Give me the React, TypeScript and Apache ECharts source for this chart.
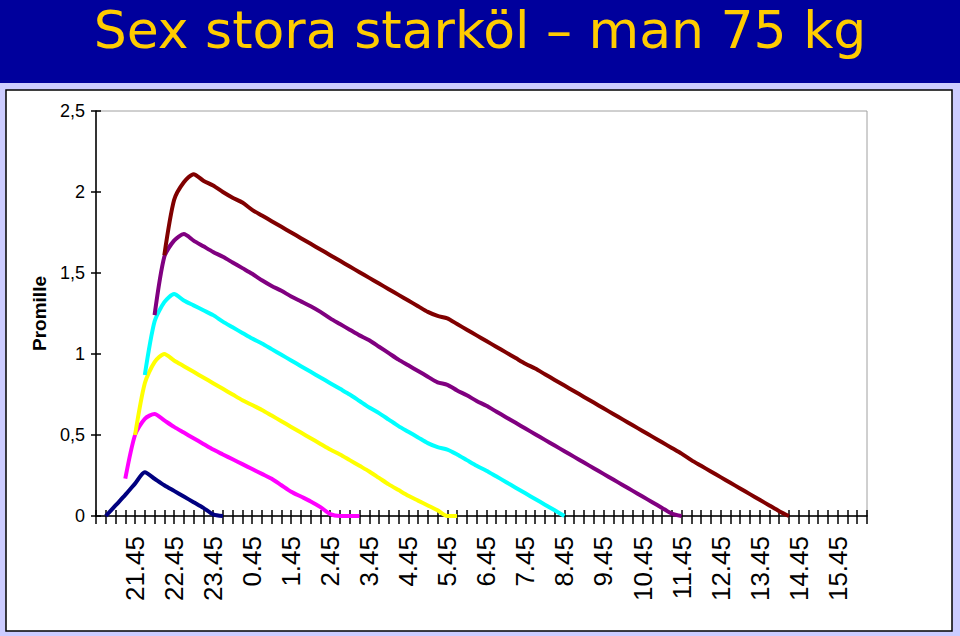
import React, { useEffect, useRef } from "react";
import * as echarts from "echarts";

const categories = [
  "20.45",
  "21.00", "21.15", "21.30", "21.45",
  "22.00", "22.15", "22.30", "22.45",
  "23.00", "23.15", "23.30", "23.45",
  "0.00", "0.15", "0.30", "0.45",
  "1.00", "1.15", "1.30", "1.45",
  "2.00", "2.15", "2.30", "2.45",
  "3.00", "3.15", "3.30", "3.45",
  "4.00", "4.15", "4.30", "4.45",
  "5.00", "5.15", "5.30", "5.45",
  "6.00", "6.15", "6.30", "6.45",
  "7.00", "7.15", "7.30", "7.45",
  "8.00", "8.15", "8.30", "8.45",
  "9.00", "9.15", "9.30", "9.45",
  "10.00", "10.15", "10.30", "10.45",
  "11.00", "11.15", "11.30", "11.45",
  "12.00", "12.15", "12.30", "12.45",
  "13.00", "13.15", "13.30", "13.45",
  "14.00", "14.15", "14.30", "14.45",
  "15.00", "15.15", "15.30", "15.45",
  "16.00", "16.15", "16.30",
];

const yTickLabels = ["0", "0,5", "1", "1,5", "2", "2,5"];

const seriesNames = ["1 starköl", "2 starköl", "3 starköl", "4 starköl", "5 starköl", "6 starköl"];
const seriesColors = ["#000080", "#FF00FF", "#FFFF00", "#00FFFF", "#800080", "#800000"];

// first category index of each curve
const seriesStarts = [1, 3, 4, 5, 6, 7];

const beer1 = [0, 0.065, 0.13, 0.2, 0.27, 0.23, 0.19, 0.155, 0.12, 0.085, 0.05, 0.01, 0];

const beer2 = [
  0.23, 0.5, 0.6, 0.63, 0.59, 0.55, 0.515, 0.48, 0.445, 0.41, 0.38, 0.35, 0.32, 0.29, 0.26,
  0.23, 0.19, 0.15, 0.12, 0.09, 0.055, 0.012, 0, 0, 0,
];

const beer3 = [
  0.5, 0.82, 0.95, 1.0, 0.96, 0.925, 0.89, 0.855, 0.82, 0.785, 0.75, 0.715, 0.685, 0.655,
  0.62, 0.585, 0.55, 0.515, 0.48, 0.445, 0.41, 0.38, 0.345, 0.31, 0.275, 0.235, 0.195, 0.16,
  0.125, 0.095, 0.065, 0.035, 0, 0,
];

const beer4 = [
  0.87, 1.2, 1.32, 1.37, 1.33, 1.3, 1.27, 1.24, 1.2, 1.165, 1.13, 1.095, 1.065, 1.03, 0.995,
  0.96, 0.925, 0.89, 0.855, 0.82, 0.785, 0.75, 0.71, 0.67, 0.635, 0.595, 0.555, 0.52, 0.485,
  0.45, 0.425, 0.41, 0.38, 0.345, 0.31, 0.28, 0.245, 0.21, 0.175, 0.14, 0.105, 0.07, 0.035, 0,
];

const beer5 = [
  1.24, 1.6, 1.7, 1.74, 1.7, 1.665, 1.63, 1.6, 1.565, 1.53, 1.495, 1.455, 1.42, 1.39, 1.355,
  1.325, 1.295, 1.26, 1.22, 1.185, 1.15, 1.115, 1.085, 1.045, 1.005, 0.965, 0.93, 0.895, 0.86,
  0.825, 0.81, 0.775, 0.745, 0.71, 0.68, 0.645, 0.61, 0.575, 0.54, 0.505, 0.47, 0.435, 0.4,
  0.365, 0.33, 0.295, 0.26, 0.225, 0.19, 0.155, 0.12, 0.085, 0.05, 0.015, 0,
];

const beer6 = [
  1.61, 1.95, 2.06, 2.11, 2.07, 2.04, 2.0, 1.965, 1.935, 1.89, 1.855, 1.82, 1.785, 1.75, 1.715,
  1.68, 1.645, 1.61, 1.575, 1.54, 1.505, 1.47, 1.435, 1.4, 1.365, 1.33, 1.295, 1.26, 1.235,
  1.22, 1.185, 1.15, 1.115, 1.08, 1.045, 1.01, 0.975, 0.94, 0.91, 0.875, 0.84, 0.805, 0.77,
  0.735, 0.7, 0.665, 0.63, 0.595, 0.56, 0.525, 0.49, 0.455, 0.42, 0.385, 0.345, 0.31, 0.275,
  0.24, 0.205, 0.17, 0.135, 0.1, 0.065, 0.03, 0,
];

const seriesValues = [beer1, beer2, beer3, beer4, beer5, beer6];

const titleText = "Sex stora starköl – man 75 kg";
const yAxisTitle = "Promille";

export default function App() {
  const ref = useRef<HTMLDivElement>(null);

  useEffect(() => {
    if (!ref.current) return;
    const chart = echarts.init(ref.current, null, { renderer: "svg" });

    const series = seriesValues.map((vals, si) => ({
      name: seriesNames[si],
      type: "line",
      xAxisIndex: 0,
      yAxisIndex: 0,
      data: vals.map((v, i) => [seriesStarts[si] + i, v]),
      showSymbol: false,
      symbol: "none",
      smooth: 0.25,
      lineStyle: { color: seriesColors[si], width: 4 },
      itemStyle: { color: seriesColors[si] },
      z: 3,
    }));

    const catAxisBase = {
      type: "category",
      data: categories,
      boundaryGap: false,
      gridIndex: 0,
      position: "bottom",
    };

    chart.setOption({
      animation: false,
      backgroundColor: "#CCCCFF",
      textStyle: { fontFamily: "Liberation Sans, Arial, sans-serif" },
      graphic: [
        {
          type: "rect",
          z: -10,
          silent: true,
          shape: { x: 0, y: 0, width: 960, height: 83 },
          style: { fill: "#00009C" },
        },
        {
          type: "rect",
          z: -10,
          silent: true,
          shape: { x: 6, y: 90, width: 946, height: 541 },
          style: { fill: "#FFFFFF", stroke: "#000000", lineWidth: 1.5 },
        },
        {
          type: "text",
          z: 10,
          x: 480,
          y: 5,
          scaleX: 1.02,
          silent: true,
          style: {
            text: titleText,
            fill: "#FFCC00",
            font: "51px 'DejaVu Sans'",
            lineHeight: 51,
            textAlign: "center",
            textVerticalAlign: "top",
          },
        },
      ],
      grid: {
        left: 96,
        right: 93,
        top: 111,
        bottom: 120,
        show: true,
        backgroundColor: "transparent",
        borderColor: "#A0A0A0",
        borderWidth: 1,
      },
      xAxis: [
        {
          ...catAxisBase,
          axisLine: { show: true, lineStyle: { color: "#000000", width: 1.5 } },
          axisTick: { show: true, interval: 0, length: 8, lineStyle: { color: "#000000", width: 1.5 } },
          axisLabel: {
            interval: (index: number) => index % 4 === 0 && index > 0,
            rotate: 90,
            fontSize: 26,
            margin: 20,
            color: "#000000",
            fontFamily: "Liberation Sans",
          },
          splitLine: { show: false },
        },
        {
          ...catAxisBase,
          axisLine: { show: false },
          axisTick: { show: true, inside: true, interval: 0, length: 6, lineStyle: { color: "#000000", width: 1.5 } },
          axisLabel: { show: false },
          splitLine: { show: false },
        },
      ],
      yAxis: [
        {
          type: "value",
          min: 0,
          max: 2.5,
          interval: 0.5,
          position: "left",
          axisLine: { show: true, lineStyle: { color: "#000000", width: 1.5 } },
          axisTick: { show: true, length: 5, lineStyle: { color: "#000000", width: 1.5 } },
          axisLabel: {
            fontSize: 18,
            margin: 11,
            color: "#000000",
            fontFamily: "Liberation Sans",
            formatter: (v: number) => yTickLabels[Math.round(v / 0.5)],
          },
          splitLine: { show: false },
          name: yAxisTitle,
          nameLocation: "middle",
          nameRotate: 90,
          nameGap: 44,
          nameTextStyle: {
            fontSize: 19,
            fontWeight: "bold",
            color: "#000000",
            fontFamily: "Liberation Sans",
          },
        },
        {
          type: "value",
          min: 0,
          max: 2.5,
          interval: 0.5,
          position: "left",
          axisLine: { show: false },
          axisTick: { show: true, inside: true, length: 5, lineStyle: { color: "#000000", width: 1.5 } },
          axisLabel: { show: false },
          splitLine: { show: false },
        },
      ],
      series,
    });

    return () => chart.dispose();
  }, []);

  return (
    <div
      ref={ref}
      style={{ position: "fixed", left: 0, top: 0, width: 960, height: 636 }}
    />
  );
}
